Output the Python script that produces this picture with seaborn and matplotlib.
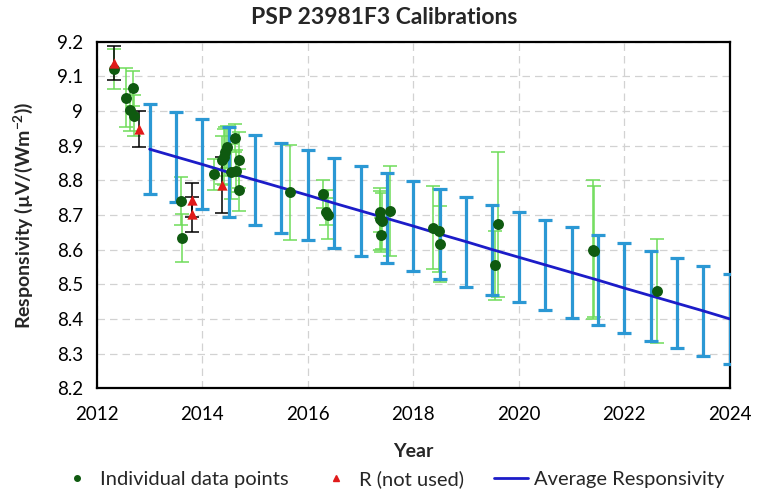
import numpy as np
import pandas as pd
import matplotlib
matplotlib.use("Agg")
import matplotlib.pyplot as plt
from matplotlib.lines import Line2D
from matplotlib.ticker import FuncFormatter
import seaborn as sns

# individual calibrations (green)
ind_year = [2012.32, 2012.55, 2012.63, 2012.69, 2012.71, 2013.59, 2013.62, 2014.22,
            2014.37, 2014.41, 2014.43, 2014.46, 2014.54, 2014.62, 2014.63, 2014.70,
            2014.70, 2015.66, 2016.29, 2016.34, 2016.39, 2017.37, 2017.36, 2017.40,
            2017.39, 2017.55, 2018.37, 2018.48, 2018.50, 2019.54, 2019.60, 2021.40,
            2021.42, 2022.62]
ind_resp = [9.122, 9.039, 9.003, 9.066, 8.987, 8.740, 8.634, 8.818,
            8.859, 8.868, 8.883, 8.896, 8.825, 8.922, 8.827, 8.859,
            8.772, 8.766, 8.760, 8.710, 8.701, 8.710, 8.689, 8.683,
            8.642, 8.711, 8.663, 8.655, 8.617, 8.555, 8.673, 8.600,
            8.595, 8.480]
ind_err = [0.057, 0.085, 0.06, 0.05, 0.06, 0.07, 0.07, 0.045,
           0.07, 0.08, 0.07, 0.06, 0.08, 0.04, 0.06, 0.08,
           0.06, 0.137, 0.04, 0.04, 0.07, 0.06, 0.09, 0.08,
           0.05, 0.13, 0.12, 0.12, 0.11, 0.10, 0.21, 0.20,
           0.19, 0.15]

# R values not used (red)
r_year = [2012.32, 2012.80, 2013.81, 2013.81, 2014.38]
r_resp = [9.139, 8.948, 8.743, 8.702, 8.787]
r_err = [0.05, 0.053, 0.05, 0.05, 0.08]

# average responsivity (blue)
avg_year = [2013.0, 2013.5, 2014.0, 2014.5, 2015.0, 2015.5, 2016.0, 2016.5,
            2017.0, 2017.5, 2018.0, 2018.5, 2019.0, 2019.5, 2020.0, 2020.5,
            2021.0, 2021.5, 2022.0, 2022.5, 2023.0, 2023.5, 2024.0]
avg_resp = [8.890, 8.868, 8.846, 8.823, 8.801, 8.779, 8.757, 8.734,
            8.712, 8.690, 8.668, 8.645, 8.623, 8.600, 8.578, 8.556,
            8.534, 8.512, 8.489, 8.467, 8.445, 8.423, 8.400]
avg_err = 0.13

ind = pd.DataFrame({"Year": ind_year, "Resp": ind_resp, "Err": ind_err})
rdf = pd.DataFrame({"Year": r_year, "Resp": r_resp, "Err": r_err})
avg = pd.DataFrame({"Year": avg_year, "Resp": avg_resp})

sns.set_theme(style="white")
plt.rcParams["font.family"] = ["Lato", "DejaVu Sans"]

fig, ax = plt.subplots(figsize=(7.69, 4.92), dpi=100)
fig.subplots_adjust(left=0.126, right=0.949, top=0.915, bottom=0.211)

green_bar = "#6fdc5a"
blue_bar = "#2b98d4"
line_blue = "#1c1cc8"
pt_green = "#0f5a10"
tri_red = "#e01a1a"

ax.errorbar(ind["Year"], ind["Resp"], yerr=ind["Err"], fmt="none",
            ecolor=green_bar, elinewidth=1.1, capsize=5, capthick=1.1, zorder=2)
ax.errorbar(rdf["Year"], rdf["Resp"], yerr=rdf["Err"], fmt="none",
            ecolor="black", elinewidth=1.1, capsize=5, capthick=1.1, zorder=2)
ax.errorbar(avg["Year"], avg["Resp"], yerr=avg_err, fmt="none",
            ecolor=blue_bar, elinewidth=2.3, capsize=5, capthick=2.3, zorder=3)

sns.lineplot(data=avg, x="Year", y="Resp", ax=ax, color=line_blue, lw=2, zorder=4)
sns.scatterplot(data=ind, x="Year", y="Resp", ax=ax, color=pt_green, s=62,
                edgecolor=pt_green, linewidth=0, zorder=5)
sns.scatterplot(data=rdf, x="Year", y="Resp", ax=ax, color=tri_red, marker="^",
                s=55, edgecolor=tri_red, linewidth=0, zorder=6)

ax.set_xlim(2012, 2024)
ax.set_ylim(8.2, 9.2)
ax.set_xticks(np.arange(2012, 2025, 2))
ax.set_yticks(np.arange(8.2, 9.21, 0.1))
ax.yaxis.set_major_formatter(FuncFormatter(lambda v, p: f"{v:.1f}".rstrip("0").rstrip(".")))
ax.grid(True, ls=(0, (6, 4)), color="#d2d2d2", lw=0.9)
ax.tick_params(direction="in", length=4, width=0.8, labelsize=13.5, colors="black")
ax.tick_params(axis="x", pad=13)
ax.tick_params(axis="y", pad=10)
for s in ax.spines.values():
    s.set_color("black")
    s.set_linewidth(1.6)

fig.suptitle("PSP 23981F3 Calibrations", x=0.5, y=0.985, fontsize=16.5, fontweight="bold")
ax.set_xlabel("Year", fontsize=14, fontweight="bold", labelpad=14)
ax.set_ylabel("Responsivity (µV/(Wm$^{\\mathregular{-2}}$))", fontsize=14, fontweight="bold", labelpad=16)

handles = [
    Line2D([], [], ls="none", marker="o", color=pt_green, markersize=4),
    Line2D([], [], ls="none", marker="^", color=tri_red, markersize=4),
    Line2D([], [], color=line_blue, lw=2),
]
labels = ["Individual data points", "R (not used)", "Average Responsivity"]
fig.legend(handles, labels, loc="center", bbox_to_anchor=(0.51, 0.027), ncol=3,
           frameon=False, fontsize=14.5, columnspacing=1.5, handlelength=1.7,
           handletextpad=0.3)

fig.savefig("out.png", dpi=100)
